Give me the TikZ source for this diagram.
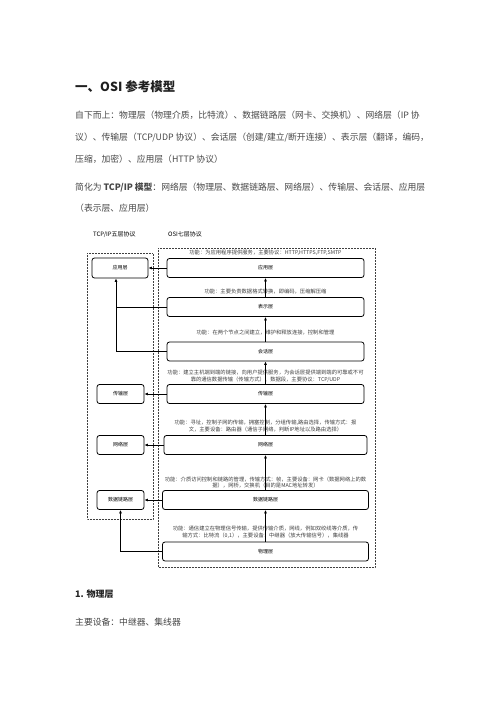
\documentclass[tikz,border=0pt]{standalone}
\usepackage{fontspec}
\setmainfont{Noto Sans CJK SC}
\usetikzlibrary{arrows.meta,positioning}

\begin{document}
\begin{tikzpicture}[x=1pt,y=-1pt,>={Latex[length=3.5pt,width=3pt]},
    layer/.style={draw,rounded corners=2.5pt,line width=0.8pt,fill=white,minimum height=19pt,inner sep=0pt,font=\fontsize{5}{6}\selectfont},
    osi/.style={layer,minimum width=#1},
    tcp/.style={layer,minimum width=47pt},
    note/.style={font=\fontsize{5.3}{6.5}\selectfont,align=center,text=black!75,inner sep=0pt},
    para/.style={anchor=base west,inner sep=0pt,font=\fontsize{8.8}{10}\selectfont,text=black!72},
    group/.style={draw=black!75,densely dotted,line width=0.5pt}]
    \useasboundingbox[fill=white] (0,0) rectangle (496,702);
    % text above the diagram
    \node[anchor=base west,inner sep=0pt,font=\bfseries\fontsize{12.5}{14}\selectfont,text=black!88] (head) at (75,91) {一、OSI 参考模型};
    \node[para] (p1) at (75,118.5) {自下而上：物理层（物理介质，比特流）、数据链路层（网卡、交换机）、网络层（IP 协};
    \node[para] (p2) at (75,140.5) {议）、传输层（TCP/UDP 协议）、会话层（创建/建立/断开连接）、表示层（翻译，编码，};
    \node[para] (p3) at (75,162.5) {压缩，加密）、应用层（HTTP 协议）};
    \node[para] (p4) at (75,190.5) {简化为 \textbf{TCP/IP 模型}：网络层（物理层、数据链路层、网络层）、传输层、会话层、应用层};
    \node[para] (p5) at (75,211.5) {（表示层、应用层）};
    % groups
    \node[anchor=base west,inner sep=0pt,font=\fontsize{6}{7}\selectfont] (ttl) at (93,236) {TCP/IP五层协议};
    \node[anchor=base west,inner sep=0pt,font=\fontsize{6}{7}\selectfont] (otl) at (168,236) {OSI七层协议};
    \draw[group] (87,253) rectangle (153,519);
    \draw[group] (158,248) rectangle (375,567);
    % OSI layers
    \node[osi=197pt] (o7) at (265.5,268) {应用层};
    \node[osi=197pt] (o6) at (265.5,307) {表示层};
    \node[osi=197pt] (o5) at (265.5,351.5) {会话层};
    \node[osi=197pt] (o4) at (265.5,394) {传输层};
    \node[osi=203pt] (o3) at (265.5,445) {网络层};
    \node[osi=206pt] (o2) at (265.5,500) {数据链路层};
    \node[osi=206pt] (o1) at (265.5,551.5) {物理层};
    % TCP/IP layers
    \node[tcp,minimum width=56pt,minimum height=20pt] (t4) at (120,268) {应用层};
    \node[tcp] (t3) at (120.5,394) {传输层};
    \node[tcp] (t2) at (120.5,445) {网络层};
    \node[tcp] (t1) at (120.5,500) {数据链路层};
    % notes
    \node[note] (n7) at (265.5,253) {功能：为应用程序提供服务，主要协议：HTTP,HTTPS,FTP,SMTP};
    \node[note] (n6) at (265.5,292) {功能：主要负责数据格式转换，即编码，压缩解压缩};
    \node[note] (n5) at (265.5,333) {功能：在两个节点之间建立，维护和释放连接，控制和管理};
    \node[note] (n4) at (265.5,376) {功能：建立主机端到端的链接，向用户提供服务，为会话层提供端到端的可靠或不可\\靠的通信数据传输（传输方式）、数据段，主要协议：TCP/UDP};
    \node[note] (n3) at (265.5,426) {功能：寻址，控制子网的传输，拥塞控制，分组传输,路由选择，传输方式：报\\文，主要设备：路由器（通信子网络，判断IP地址以及路由选择）};
    \node[note] (n2) at (265.5,482.5) {功能：介质访问控制和链路的管理，传输方式：帧，主要设备：网卡（数据网络上的数\\据），网桥，交换机（目的是MAC地址转发）};
    \node[note] (n1) at (265.5,532.5) {功能：通信建立在物理信号传输，提供传输介质，网线，例如双绞线等介质，传\\输方式：比特流（0,1），主要设备：中继器（放大传输信号），集线器};
    % connectors
    \foreach \a/\b in {o1/o2,o2/o3,o3/o4,o4/o5,o5/o6,o6/o7}
        \draw[->,line width=0.8pt] (\a.north) -- (\b.south);
    \foreach \a/\b in {o7/t4,o4/t3,o3/t2,o2/t1}
        \draw[->,line width=0.8pt] (\a) -- (\b);
    \coordinate (join) at (116,307);
    \draw[line width=0.8pt] (o6.west) -- (join);
    \draw[->,line width=0.8pt] (o5.west) -| ([xshift=-4pt]t4.south);
    \draw[->,line width=0.8pt] (o1.west) -| (t1.south);
    % text below the diagram
    \node[anchor=base west,inner sep=0pt,font=\bfseries\fontsize{9}{10}\selectfont,text=black!85] (h1) at (75,597.5) {1. 物理层};
    \node[para] (p6) at (75,625.5) {主要设备：中继器、集线器};
\end{tikzpicture}
\end{document}
